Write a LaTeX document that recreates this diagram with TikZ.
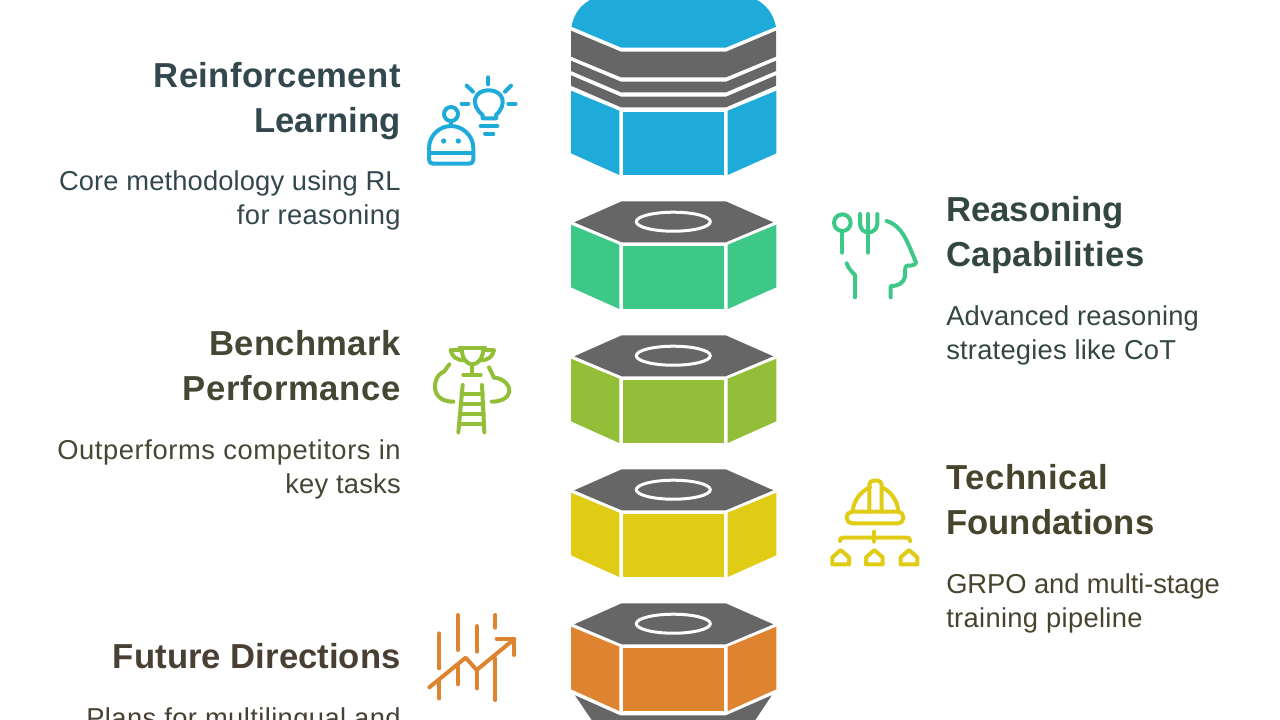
\documentclass[tikz,border=0pt]{standalone}
\usepackage{fontspec}
\setmainfont{Liberation Sans}
\definecolor{cblue}{HTML}{1EABDA}
\definecolor{cgreen}{HTML}{3DC887}
\definecolor{clime}{HTML}{93BE38}
\definecolor{cyel}{HTML}{E0CB15}
\definecolor{corg}{HTML}{DE8431}
\definecolor{cgray}{HTML}{666666}
\definecolor{tblue}{HTML}{33474F}
\definecolor{tgreen}{HTML}{33473F}
\definecolor{tlime}{HTML}{444733}
\definecolor{tyel}{HTML}{47442E}
\definecolor{torg}{HTML}{4A3F33}
\newcommand{\hfnt}{\fontsize{26}{30}\selectfont\bfseries\addfontfeatures{LetterSpace=1}}
\newcommand{\bfnt}{\fontsize{20.5}{24}\selectfont\addfontfeatures{LetterSpace=0.8}}
\newcommand{\lsp}[1]{\addfontfeatures{LetterSpace=#1}}
\tikzset{
  headl/.style={anchor=base east,inner sep=0pt,font=\hfnt},
  headr/.style={anchor=base west,inner sep=0pt,font=\hfnt},
  bodyl/.style={anchor=base east,inner sep=0pt,font=\bfnt},
  bodyr/.style={anchor=base west,inner sep=0pt,font=\bfnt},
  icon/.style={line width=3pt,line cap=round,line join=round},
  iconscale/.style={x=0.25pt,y=-0.25pt},
}
\newcommand{\faces}[1]{%
  \fill[#1] (571,626.7) -- (619.3,646.7) -- (619.3,711) -- (571,689.3) -- cycle;
  \fill[#1] (623,648) -- (724.3,648) -- (724.3,711.3) -- (623,711.3) -- cycle;
  \fill[#1] (727.7,646.7) -- (776.3,626.7) -- (776.3,689.3) -- (727.7,711) -- cycle;
}
\newcommand{\nut}[2]{%
  \begin{scope}[yshift=#2*0.75pt]
    \fill[cgray] (621.7,603.3) -- (725.7,603.3) -- (773.3,624.3) -- (725.7,644.3) -- (621.7,644.3) -- (574.3,624.3) -- cycle;
    \draw[white,line width=2.25pt] (673.3,623.7) ellipse [x radius=37,y radius=9.5];
    \faces{#1}
  \end{scope}
}
\begin{document}
\begin{tikzpicture}[x=0.75pt,y=-0.75pt]
\useasboundingbox (0,0) rectangle (1280,719);
\clip (0,0) rectangle (1280,719);
% top blue stack
\fill[cblue] (571.5,26.7) .. controls (574,13) and (581,5) .. (590,0) -- (757,0) .. controls (766,5) and (773,13) .. (776,26.7) -- (726,47.5) -- (621,47.5) -- cycle;
\fill[cgray] (571,30.7) -- (621,51.7) -- (726,51.7) -- (776,30.7) -- (776,56.7) -- (726,77.3) -- (621,77.3) -- (571,56.7) -- cycle;
\fill[cgray] (571,60.7) -- (621,81.7) -- (726,81.7) -- (776,60.7) -- (776,71) -- (726,92.3) -- (621,92.3) -- (571,71) -- cycle;
\fill[cgray] (571,75.3) -- (621,96.7) -- (726,96.7) -- (776,75.3) -- (776,85.7) -- (726,107.3) -- (621,107.3) -- (571,85.7) -- cycle;
\begin{scope}[yshift=536*0.75pt]\faces{cblue}\end{scope}
% nuts
\nut{cgreen}{402}
\nut{clime}{268}
\nut{cyel}{134}
\nut{corg}{0}
% bottom grey
\fill[cgray] (575,695.3) -- (620,715.3) -- (726,715.3) -- (771.7,695.3) -- (752,725) -- (595,725) -- cycle;
% texts
\begin{scope}[text=tblue]
\node[headl] (t1a) at (401,87) {Reinforcement};
\node[headl] (t1b) at (401,132) {\lsp{0}Learning};
\node[bodyl] (t1c) at (401,190) {\lsp{0.5}Core methodology using RL};
\node[bodyl] (t1d) at (401,224) {\lsp{1.4}for reasoning};
\end{scope}
\begin{scope}[text=tgreen]
\node[headr] (t2a) at (946,221) {\lsp{0}Reasoning};
\node[headr] (t2b) at (946,266) {Capabilities};
\node[bodyr] (t2c) at (946,325) {Advanced reasoning};
\node[bodyr] (t2d) at (946,359) {strategies like CoT};
\end{scope}
\begin{scope}[text=tlime]
\node[headl] (t3a) at (401,355) {Benchmark};
\node[headl] (t3b) at (401,400) {\lsp{1.8}Performance};
\node[bodyl] (t3c) at (401,459) {\lsp{2.2}Outperforms competitors in};
\node[bodyl] (t3d) at (401,493) {key tasks};
\end{scope}
\begin{scope}[text=tyel]
\node[headr] (t4a) at (946,489) {\lsp{1.6}Technical};
\node[headr] (t4b) at (946,534) {\lsp{0}Foundations};
\node[bodyr] (t4c) at (946,593) {\lsp{-0.3}GRPO and multi-stage};
\node[bodyr] (t4d) at (946,627) {\lsp{1.2}training pipeline};
\end{scope}
\begin{scope}[text=torg]
\node[headl] (t5a) at (401,668) {\lsp{0.15}Future Directions};
\node[bodyl] (t5b) at (401,727) {\lsp{1.5}Plans for multilingual and};
\end{scope}
% icon 1
\begin{scope}[shift={(415,65)},iconscale,icon,draw=cblue]
\draw (203,160) -- (203,150) .. controls (165,120) and (175,76) .. (221,76) .. controls (267,76) and (277,120) .. (243,150) -- (243,160) -- cycle;
\draw (220,37) -- (220,58);
\draw (140,116) -- (160,116);
\draw (280,116) -- (302,116);
\draw (155,62) -- (174,80);
\draw (288,62) -- (270,80);
\draw (197,183) -- (247,183);
\draw (210,206) -- (235,206);
\draw (108,147) circle [radius=21];
\draw (108,168) -- (108,183);
\draw (42,283) -- (42,250) .. controls (42,210) and (75,183) .. (108,183) .. controls (141,183) and (175,210) .. (175,250) -- (175,283) .. controls (175,292) and (170,296) .. (162,296) -- (55,296) .. controls (47,296) and (42,292) .. (42,283) -- cycle;
\draw (42,265) -- (175,265);
\fill[cblue] (86,228) circle [radius=8];
\fill[cblue] (130,228) circle [radius=8];
\end{scope}
% icon 2
\begin{scope}[shift={(820,200)},iconscale,icon,draw=cgreen]
\draw (67,68) circle [radius=25];
\draw (67,93) -- (67,158);
\draw (120,42) -- (120,70) .. controls (120,88) and (132,97) .. (145,97) .. controls (158,97) and (172,88) .. (172,70) -- (172,42);
\draw (145,42) -- (145,158);
\draw (200,63) .. controls (250,78) and (265,135) .. (288,187) .. controls (288,195) and (275,197) .. (262,197) .. controls (255,198) and (255,205) .. (255,230) .. controls (250,250) and (235,258) .. (212,258) -- (212,292);
\draw (80,190) .. controls (85,205) and (95,215) .. (105,225) -- (105,292);
\end{scope}
% icon 3
\begin{scope}[shift={(420,335)},iconscale,icon,draw=clime]
\draw (118,38) -- (195,38);
\draw (125,38) .. controls (125,70) and (140,88) .. (157,88) .. controls (174,88) and (190,70) .. (190,38);
\draw (120,45) -- (92,45) .. controls (95,65) and (110,75) .. (132,76);
\draw (195,45) -- (222,45) .. controls (218,65) and (205,75) .. (183,76);
\draw (157,88) -- (157,118);
\draw (130,120) -- (182,120);
\draw (88,88) -- (72,110) .. controls (45,120) and (45,150) .. (45,160) .. controls (48,190) and (75,200) .. (100,200);
\draw (207,97) -- (222,128) .. controls (255,130) and (270,155) .. (268,170) .. controls (265,190) and (240,200) .. (215,200);
\draw (128,150) -- (115,292);
\draw (186,150) -- (193,292);
\draw (125,178) -- (188,178);
\draw (122,208) -- (190,208);
\draw (120,238) -- (191,238);
\draw (118,266) -- (192,266);
\end{scope}
% icon 4
\begin{scope}[shift={(820,470)},iconscale,icon,draw=cyel]
\draw[rounded corners=4pt] (80,125) rectangle (250,160);
\draw (98,125) .. controls (100,90) and (125,62) .. (150,52);
\draw (185,52) .. controls (210,62) and (233,90) .. (235,125);
\draw[rounded corners=3pt] (148,125) -- (148,32) -- (185,32) -- (185,125);
\draw (60,213) .. controls (60,206) and (62,203) .. (68,203) -- (262,203) .. controls (268,203) and (270,206) .. (270,213);
\draw (163,185) -- (163,215);
\draw (37,283) -- (37,262) -- (62,240) -- (87,262) -- (87,283) -- cycle;
\draw (138,283) -- (138,262) -- (163,240) -- (188,262) -- (188,283) -- cycle;
\draw (242,283) -- (242,262) -- (267,240) -- (292,262) -- (292,283) -- cycle;
\end{scope}
% icon 5
\begin{scope}[shift={(420,600)},iconscale,icon,draw=corg]
\draw (58,100) -- (58,205);
\draw (58,240) -- (58,295);
\draw (114,45) -- (114,150);
\draw (114,195) -- (114,253);
\draw (170,78) -- (170,155);
\draw (170,210) -- (170,265);
\draw (226,45) -- (226,83);
\draw (226,175) -- (226,300);
\draw (28,262) -- (137,173) -- (170,210) -- (283,117);
\draw (230,117) -- (283,117) -- (283,165);
\end{scope}
\end{tikzpicture}
\end{document}
